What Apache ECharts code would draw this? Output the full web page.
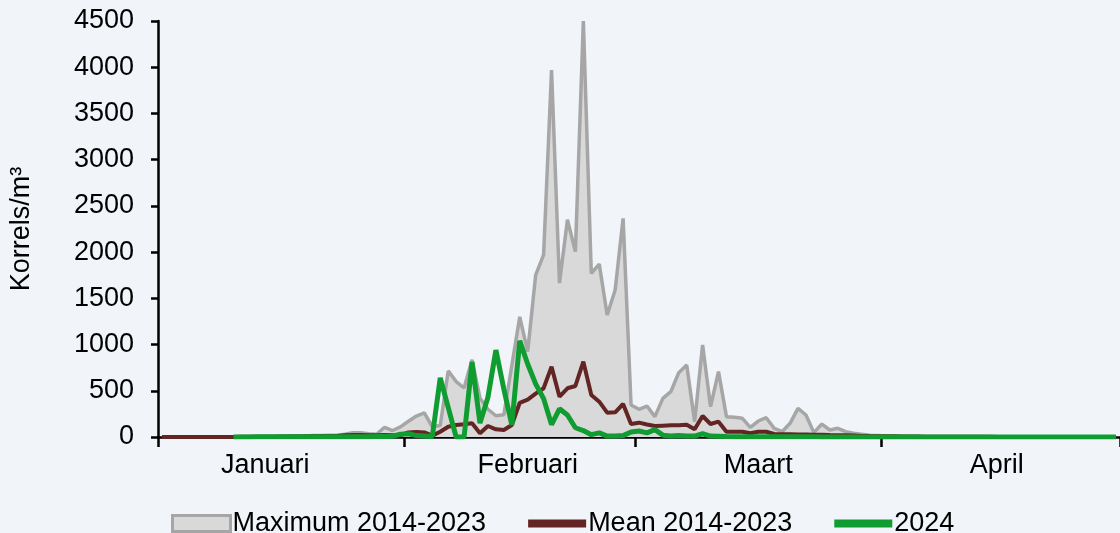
<!DOCTYPE html>
<html>
<head>
<meta charset="utf-8">
<script src="https://cdn.jsdelivr.net/npm/echarts@6/dist/echarts.min.js"></script>
<style>
  html, body { margin: 0; padding: 0; background: #f1f4f9; }
  #main { width: 1120px; height: 533px; }
</style>
</head>
<body>
<div id="main"></div>
<script>
// 1 jan t/m 30 apr 2024, een waarde per dag
let days = []
let start = new Date(2024, 0, 1)
for (let i = 0; i < 121; i++) {
  let d = new Date(start.getTime() + i * 86400000)
  days.push(d.getDate() + '-' + (d.getMonth() + 1))
}

let monthNames = ['Januari', 'Februari', 'Maart', 'April']
let monthStart = [0, 31, 60, 91, 121]
let monthLabelAt = [13, 46, 75, 105]

let maxVals = [
  0, 0, 0, 0, 0, 0, 0, 0, 0, 0,
  0, 0, 2, 3, 3, 5, 8, 10, 12, 15,
  15, 20, 20, 30, 45, 45, 35, 30, 105, 70,
  110, 170, 227, 260, 110, 125, 715, 600, 530, 835,
  420, 300, 230, 240, 770, 1300, 925, 1750, 1970, 3970,
  1665, 2350, 2005, 4500, 1770, 1870, 1320, 1590, 2365, 346,
  300, 335, 220, 418, 490, 696, 779, 166, 995, 328,
  707, 220, 213, 202, 105, 173, 209, 94, 57, 148,
  310, 238, 47, 140, 76, 94, 57, 40, 30, 20,
  15, 10, 8, 6, 5, 5, 4, 4, 3, 3,
  3, 2, 2, 2, 2, 1, 1, 1, 1, 1,
  1, 0, 0, 0, 0, 0, 0, 0, 0, 0,
  0
]

let meanVals = [
  0, 0, 0, 0, 0, 0, 0, 0, 0, 0,
  2, 2, 3, 3, 4, 5, 5, 6, 8, 8,
  10, 10, 12, 20, 22, 22, 20, 20, 22, 20,
  20, 50, 55, 50, 15, 57, 111, 130, 137, 148,
  40, 119, 83, 76, 130, 370, 405, 470, 527, 761,
  436, 527, 552, 815, 454, 382, 263, 267, 357, 140,
  155, 135, 119, 123, 126, 126, 133, 83, 227, 141,
  166, 57, 57, 57, 40, 57, 57, 33, 30, 30,
  28, 28, 25, 25, 22, 20, 18, 15, 12, 10,
  9, 8, 7, 6, 5, 5, 4, 4, 3, 3,
  3, 2, 2, 2, 2, 1, 1, 1, 1, 1,
  1, 1, 0, 0, 0, 0, 0, 0, 0, 0,
  0
]

let vals2024 = [
  null, null, null, null, null, null, null, null, null, 0,
  0, 0, 2, 2, 3, 2, 2, 3, 3, 2,
  2, 3, 3, 3, 4, 4, 3, 5, 5, 8,
  30, 35, 15, 10, 5, 640, 320, 0, 0, 810,
  150, 430, 940, 520, 130, 1040, 790, 575, 415, 135,
  305, 238, 100, 70, 25, 45, 10, 12, 15, 55,
  65, 45, 80, 20, 10, 15, 10, 10, 35, 10,
  8, 5, 4, 4, 3, 3, 3, 2, 2, 2,
  2, 2, 2, 1, 1, 1, 1, 1, 1, 1,
  1, 1, 1, 1, 0, 0, 0, 0, 0, 0,
  0, 0, 0, 0, 0, 0, 0, 0, 0, 0,
  0, 0, 0, 0, 0, 0, 0, 0, 0, 0,
  0
]

let fontName = 'Liberation Sans, Arial, sans-serif'

let myChart = echarts.init(document.getElementById('main'))
let option = {
  backgroundColor: '#f1f4f9',
  animation: false,
  grid: { left: 157, right: 0, top: 21, bottom: 96 },
  legend: {
    left: 166,
    top: 505,
    itemWidth: 58,
    itemHeight: 16,
    itemGap: 42,
    textStyle: { fontFamily: fontName, fontSize: 27, color: '#000', padding: [0, 0, 0, -3] },
    data: [
      {
        name: 'Maximum 2014-2023',
        icon: 'rect',
        itemStyle: { color: '#d9d9d9', borderColor: '#a6a6a6', borderWidth: 3 }
      },
      {
        name: 'Mean 2014-2023',
        icon: 'path://M0,0 L50,0 L50,7 L0,7 Z'
      },
      {
        name: '2024',
        icon: 'path://M0,0 L50,0 L50,7 L0,7 Z'
      }
    ]
  },
  xAxis: {
    type: 'category',
    data: days,
    boundaryGap: true,
    axisLine: { show: true, lineStyle: { color: '#000', width: 2.5 } },
    axisTick: {
      show: true,
      length: 10,
      lineStyle: { color: '#000', width: 2.5 },
      interval: function (index) { return monthStart.indexOf(index) >= 0 }
    },
    axisLabel: {
      interval: function (index) { return monthLabelAt.indexOf(index) >= 0 },
      formatter: function (value, index) {
        let m = monthLabelAt.indexOf(index)
        return m >= 0 ? monthNames[m] : ''
      },
      margin: 15,
      color: '#000',
      fontFamily: fontName,
      fontSize: 27
    },
    splitLine: { show: false }
  },
  yAxis: {
    type: 'value',
    min: 0,
    max: 4500,
    interval: 500,
    name: 'Korrels/m³',
    nameLocation: 'middle',
    nameRotate: 90,
    nameGap: 123,
    nameTextStyle: { fontFamily: fontName, fontSize: 27, color: '#000' },
    axisLine: { show: true, lineStyle: { color: '#000', width: 2.5 } },
    axisTick: { show: true, length: 7, lineStyle: { color: '#000', width: 2.5 } },
    axisLabel: {
      margin: 24,
      color: '#000',
      fontFamily: fontName,
      fontSize: 27,
      formatter: function (v) { return String(v) }
    },
    splitLine: { show: false }
  },
  series: [
    {
      name: 'Maximum 2014-2023',
      type: 'line',
      data: maxVals,
      symbol: 'none',
      lineStyle: { color: '#a6a6a6', width: 3.5 },
      itemStyle: { color: '#d9d9d9' },
      areaStyle: { color: '#d9d9d9', opacity: 1 }
    },
    {
      name: 'Mean 2014-2023',
      type: 'line',
      data: meanVals,
      symbol: 'none',
      lineStyle: { color: '#632523', width: 4 },
      itemStyle: { color: '#632523' }
    },
    {
      name: '2024',
      type: 'line',
      data: vals2024,
      symbol: 'none',
      lineStyle: { color: '#0f9d31', width: 5 },
      itemStyle: { color: '#0f9d31' }
    }
  ]
}
myChart.setOption(option)
</script>
</body>
</html>
